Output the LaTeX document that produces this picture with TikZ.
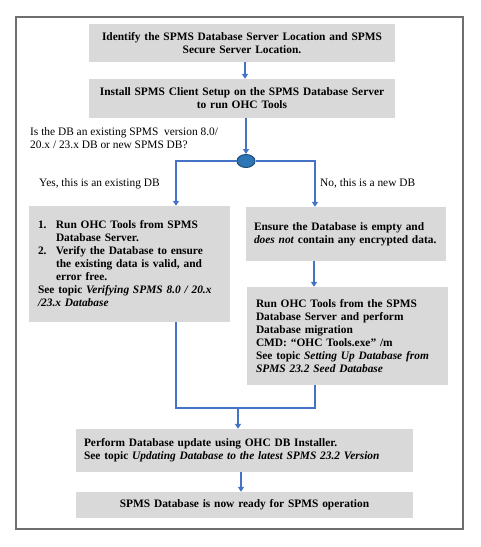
\documentclass[tikz,border=0pt]{standalone}
\usepackage{fontspec}
\setmainfont{Liberation Serif}
\usetikzlibrary{arrows.meta,shapes.geometric}
\definecolor{boxgray}{HTML}{D9D9D9}
\definecolor{lineblue}{HTML}{4472C4}
\definecolor{circfill}{HTML}{2E75B6}
\definecolor{circdraw}{HTML}{1F4E79}
\definecolor{framegray}{HTML}{6E6E6E}
\tikzset{
  txt/.style={font=\fontsize{11.4}{13}\selectfont, inner sep=0pt},
  graybox/.style={txt, fill=boxgray, font=\fontsize{11.4}{13}\selectfont\bfseries},
  conn/.style={draw=lineblue, line width=1.3pt},
  arr/.style={conn, -{Triangle[width=6pt,length=5pt]}},
}
\begin{document}
\begin{tikzpicture}[x=1pt,y=-1pt]
\useasboundingbox (0,0) rectangle (480,547);
\draw[framegray, line width=1.3pt] (16,17) rectangle (463,529);

\node[graybox, minimum width=306pt, minimum height=38pt, text width=296pt, align=center] (b1) at (242,43)
  {Identify the SPMS Database Server Location and SPMS\\Secure Server Location.};
\node[graybox, minimum width=306pt, minimum height=39pt, text width=296pt, align=center] (b2) at (242,98.5)
  {Install SPMS Client Setup on the SPMS Database Server\\to run OHC Tools};

\node[txt, anchor=west, align=left] (q) at (30,138.5)
  {Is the DB an existing SPMS\ \ version 8.0/\\20.x / 23.x DB or new SPMS DB?};

\node[ellipse, draw=circdraw, fill=circfill, line width=1pt, minimum width=18pt, minimum height=13pt, inner sep=0pt] (circ) at (246,161) {};

\node[txt, anchor=west] (yes) at (39,184) {Yes, this is an existing DB};
\node[txt, anchor=west] (no) at (320,183) {No, this is a new DB};

\node[graybox, minimum width=201pt, minimum height=116pt, text width=183pt, align=left] (lb) at (129.5,264)
  {\makebox[18pt][l]{1.}Run OHC Tools from SPMS\\
   \hspace*{18pt}Database Server.\\
   \makebox[18pt][l]{2.}Verify the Database to ensure\\
   \hspace*{18pt}the existing data is valid, and\\
   \hspace*{18pt}error free.\\
   See topic \textit{Verifying SPMS 8.0 / 20.x}\\
   \textit{/23.x Database}};

\node[graybox, minimum width=200pt, minimum height=54pt, text width=184pt, align=left] (rb1) at (346,234)
  {Ensure the Database is empty and\\\textit{does not} contain any encrypted data.};

\node[graybox, minimum width=201pt, minimum height=98pt, text width=183pt, align=left] (rb2) at (347.5,336)
  {Run OHC Tools from the SPMS\\
   Database Server and perform\\
   Database migration\\
   CMD: “OHC Tools.exe” /m\\
   See topic \textit{Setting Up Database from}\\
   \textit{SPMS 23.2 Seed Database}};

\node[graybox, minimum width=337pt, minimum height=43pt, text width=321pt, align=left] (b5) at (244.5,450.5)
  {Perform Database update using OHC DB Installer.\\
   See topic \textit{Updating Database to the latest SPMS 23.2 Version}};

\node[graybox, minimum width=337pt, minimum height=26pt, text width=321pt, align=center] (b6) at (244.5,505)
  {SPMS Database is now ready for SPMS operation};

\coordinate (c1) at (245,0);
\coordinate (cl) at (176,0);
\coordinate (cr) at (315,0);
\coordinate (cr2) at (314,0);
\coordinate (mg) at (238,408);
\coordinate (c5) at (241,0);

\draw[arr] (b1.south -| c1) -- (b2.north -| c1);
\draw[arr] (b2.south -| circ.north) -- (circ.north);
\draw[arr] (circ.west) -| (lb.north -| cl);
\draw[arr] (circ.east) -| (rb1.north -| cr);
\draw[arr] (rb1.south -| cr2) -- (rb2.north -| cr2);
\draw[conn] (lb.south -| cl) |- (mg) -| (rb2.south -| cr);
\draw[arr] (mg) -- (b5.north -| mg);
\draw[arr] (b5.south -| c5) -- (b6.north -| c5);
\end{tikzpicture}
\end{document}
